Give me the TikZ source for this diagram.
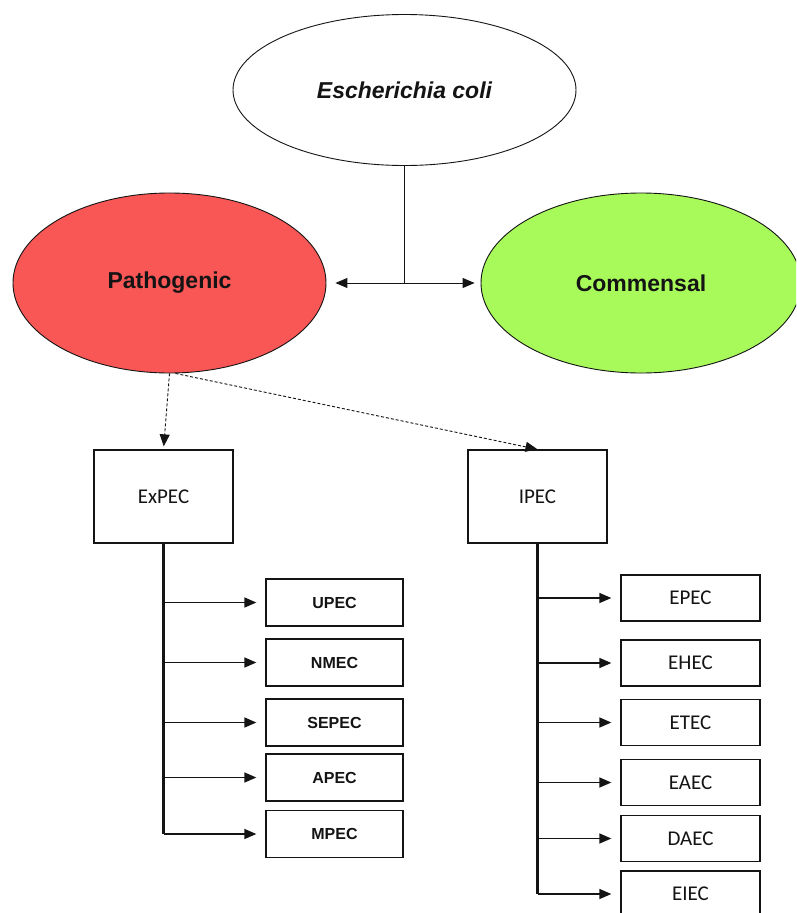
\documentclass[tikz,border=0pt]{standalone}
\usepackage{fontspec}
\setmainfont{Liberation Sans}
\newfontfamily\carl{Carlito}
\usetikzlibrary{shapes.geometric,arrows.meta}
\definecolor{pathred}{RGB}{249,86,86}
\definecolor{comgreen}{RGB}{168,250,90}
\definecolor{ink}{RGB}{20,20,20}
\begin{document}
\begin{tikzpicture}[x=1pt,y=-1pt,
  oval/.style={ellipse,draw=ink,line width=0.9pt,inner sep=0pt,font=\fontsize{23}{26}\selectfont\bfseries,text=ink},
  bigbox/.style={rectangle,draw=ink,line width=1.3pt,minimum width=139pt,minimum height=93pt,inner sep=0pt,font=\carl\fontsize{21}{23}\selectfont,text=ink},
  lbox/.style={rectangle,draw=ink,line width=1.3pt,minimum width=137pt,minimum height=47pt,inner sep=0pt,font=\fontsize{16}{18}\selectfont\bfseries,text=ink},
  rbox/.style={rectangle,draw=ink,line width=1.3pt,minimum width=139pt,minimum height=46pt,inner sep=0pt,font=\carl\fontsize{21}{23}\selectfont,text=ink},
  tip/.style={-{Triangle[length=12pt,width=10pt]}},
  conn/.style={draw=ink,line width=1pt},
  dashconn/.style={draw=ink,line width=0.9pt,dash pattern=on 3pt off 2pt,-{Triangle[length=12pt,width=10pt]}},
  trunk/.style={draw=ink,line width=2.2pt},
  branch/.style={draw=ink,line width=1.4pt,-{Triangle[length=12pt,width=10pt]},shorten >=9pt}
]
\clip (0,0) rectangle (796,913);
\fill[white] (0,0) rectangle (796,913);

% ellipses
\node[oval,minimum width=343pt,minimum height=151pt,fill=white] (ecoli) at (404.5,90) {\itshape Escherichia coli};
\node[oval,minimum width=313pt,minimum height=180pt,fill=pathred] (path) at (169.5,283) {Pathogenic};
\node[oval,minimum width=320pt,minimum height=180pt,fill=comgreen] (comm) at (641,283) {Commensal};

\coordinate (j) at (ecoli.south |- path.east);
\draw[conn] (ecoli.south) -- (j);
\draw[conn,tip,shorten >=9pt] (j) -- (path.east);
\draw[conn,tip,shorten >=6pt] (j) -- (comm.west);

% main boxes
\node[bigbox] (expec) at (163.5,496.5) {ExPEC};
\node[bigbox] (ipec) at (537.5,496.5) {IPEC};

\draw[dashconn,shorten >=3pt] (path.south) -- (expec.north);
\draw[dashconn] ([xshift=6pt]path.south) -- (ipec.north);

% left children
\node[lbox] (upec) at (334.5,602.5) {UPEC};
\node[lbox] (nmec) at (334.5,662.5) {NMEC};
\node[lbox] (sepec) at (334.5,722.5) {SEPEC};
\node[lbox] (apec) at (334.5,777.5) {APEC};
\node[lbox] (mpec) at (334.5,834) {MPEC};

% right children
\node[rbox] (epec) at (690.5,598) {EPEC};
\node[rbox] (ehec) at (690.5,663) {EHEC};
\node[rbox] (etec) at (690.5,722.5) {ETEC};
\node[rbox] (eaec) at (690.5,782.5) {EAEC};
\node[rbox] (daec) at (690.5,838.5) {DAEC};
\node[rbox] (eiec) at (690.5,894) {EIEC};

% trunks
\draw[trunk] (expec.south) -- (expec.south |- mpec.west);
\draw[trunk] (ipec.south) -- (ipec.south |- eiec.west);

% branches
\foreach \n in {upec,nmec,sepec,apec,mpec}
  \draw[branch] (expec.south |- \n.west) -- (\n.west);
\foreach \n in {epec,ehec,etec,eaec,daec,eiec}
  \draw[branch] (ipec.south |- \n.west) -- (\n.west);
\end{tikzpicture}
\end{document}
